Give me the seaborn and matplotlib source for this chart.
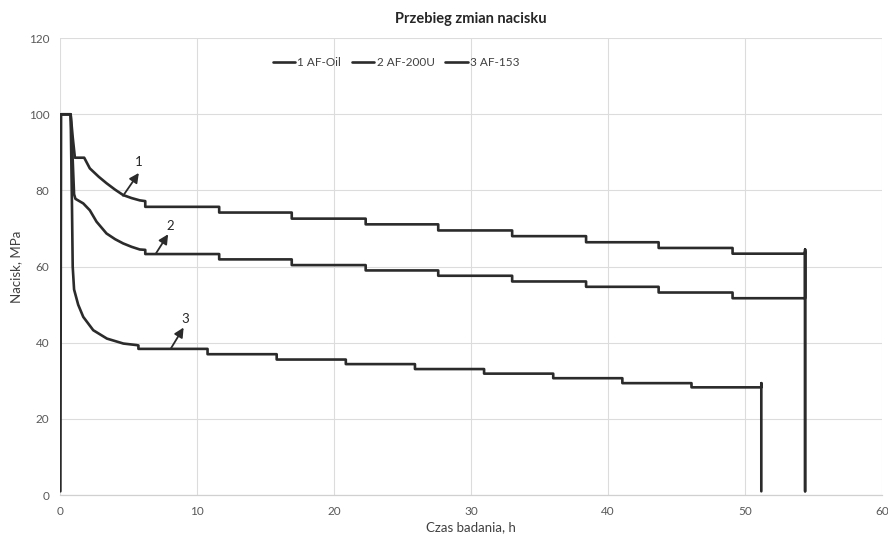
import numpy as np
import pandas as pd
import matplotlib
matplotlib.use("Agg")
import matplotlib.pyplot as plt
import seaborn as sns

# ---- data ----
series_names = ["1 AF-Oil", "2 AF-200U", "3 AF-153"]

# start-up and decay part (time h, pressure MPa)
start_t_1 = [0.0, 0.05, 0.75, 0.9, 1.06, 1.74, 2.15, 2.8, 3.37, 4.0, 4.58, 5.2, 5.8, 6.2]
start_p_1 = [1.0, 100.0, 100.0, 94.0, 88.6, 88.6, 85.8, 83.6, 81.9, 80.2, 78.8, 78.0, 77.4, 77.2]
start_t_2 = [0.05, 0.75, 0.9, 1.0, 1.1, 1.67, 2.15, 2.64, 3.37, 4.0, 4.58, 5.2, 5.8, 6.2]
start_p_2 = [100.0, 100.0, 88.0, 79.0, 77.8, 76.6, 74.8, 71.8, 68.7, 67.2, 66.1, 65.2, 64.5, 64.4]
start_t_3 = [0.05, 0.75, 0.85, 0.9, 1.0, 1.3, 1.67, 2.4, 3.4, 4.6, 5.56, 5.7]
start_p_3 = [100.0, 100.0, 75.0, 60.0, 54.0, 50.0, 46.8, 43.3, 41.1, 39.8, 39.4, 39.3]

# step changes: time of each step and the level after it
step_t_1 = [6.2, 11.6, 16.9, 22.3, 27.6, 33.0, 38.4, 43.7, 49.1]
level_1 = [75.7, 74.2, 72.6, 71.1, 69.5, 68.0, 66.4, 64.9, 63.4]
step_t_2 = [6.2, 11.6, 16.9, 22.3, 27.6, 33.0, 38.4, 43.7, 49.1]
level_2 = [63.3, 61.9, 60.4, 59.0, 57.6, 56.1, 54.7, 53.2, 51.7]
step_t_3 = [5.7, 10.75, 15.8, 20.85, 25.9, 30.95, 36.0, 41.05, 46.1]
level_3 = [38.4, 37.0, 35.6, 34.4, 33.1, 31.9, 30.7, 29.4, 28.3]

# end of test: time, last spike value, value after unloading
end_t = [54.4, 54.4, 51.2]
end_spike = [64.5, 64.0, 29.4]
end_p = [1.0, 1.0, 1.0]

# annotation labels: arrow tail (on curve), arrow head, label
ann_labels = ["1", "2", "3"]
ann_tail = [(4.58, 78.6), (6.97, 63.4), (8.07, 38.5)]
ann_head = [(5.73, 84.6), (7.87, 68.5), (9.0, 44.0)]
ann_text = [(5.75, 87.6), (8.0, 70.6), (9.15, 46.3)]

x_ticks = [0, 10, 20, 30, 40, 50, 60]
y_ticks = [0, 20, 40, 60, 80, 100, 120]


def build(st, sp, steps, levels, et, es, ep):
    t = list(st)
    p = list(sp)
    prev = sp[-1]
    for s, lv in zip(steps, levels):
        t += [s, s]
        p += [prev, lv]
        prev = lv
    t += [et, et, et]
    p += [prev, es, ep]
    return t, p


rows = []
groups = [
    (start_t_1, start_p_1, step_t_1, level_1),
    (start_t_2, start_p_2, step_t_2, level_2),
    (start_t_3, start_p_3, step_t_3, level_3),
]
for i, (st, sp, stp, lv) in enumerate(groups):
    t, p = build(st, sp, stp, lv, end_t[i], end_spike[i], end_p[i])
    for k, (a, b) in enumerate(zip(t, p)):
        rows.append({"series": series_names[i], "t": a, "p": b, "order": k})
df = pd.DataFrame(rows)

sns.set_theme(style="white")
plt.rcParams["font.family"] = ["Lato", "DejaVu Sans"]

fig = plt.figure(figsize=(8.88, 5.37), dpi=100)
ax = fig.add_axes([0.068, 0.078, 0.925, 0.851])

line_col = "#2b2b2b"
sns.lineplot(data=df, x="t", y="p", hue="series", units="series", estimator=None,
             sort=False, palette=[line_col] * 3, linewidth=1.9, ax=ax, legend=True)

ax.set_xlim(0, 60)
ax.set_ylim(0, 120)
ax.set_xticks(x_ticks)
ax.set_yticks(y_ticks)
ax.grid(True, color="#dcdcdc", linewidth=0.8)
ax.set_axisbelow(True)
for s in ["left", "right", "top"]:
    ax.spines[s].set_visible(False)
ax.spines["bottom"].set_color("#d0d0d0")
ax.spines["bottom"].set_linewidth(0.9)
ax.tick_params(axis="both", length=0, labelsize=8.5, colors="#595959", pad=8)

ax.set_xlabel("Czas badania, h", fontsize=9.5, color="#404040", labelpad=3)
ax.set_ylabel("Nacisk, MPa", fontsize=9.5, color="#404040", labelpad=5)
ax.set_title("Przebieg zmian nacisku", fontsize=10.5, fontweight="bold",
             color="#262626", pad=11)

for lab, tl, hd, tx in zip(ann_labels, ann_tail, ann_head, ann_text):
    ax.annotate("", xy=hd, xytext=tl,
                arrowprops=dict(arrowstyle="-|>", color=line_col, lw=1.3,
                                mutation_scale=14, shrinkA=0, shrinkB=0))
    ax.text(tx[0], tx[1], lab, fontsize=9.5, color="#262626", ha="center", va="center")

handles, labels = ax.get_legend_handles_labels()
ax.legend(handles, labels, ncol=3, frameon=False, fontsize=8.5,
          loc="center", bbox_to_anchor=(0.446, 0.883), bbox_transform=fig.transFigure,
          handlelength=1.9, handletextpad=0.2, columnspacing=0.9,
          labelcolor="#404040")

fig.savefig("out.png", dpi=100)
